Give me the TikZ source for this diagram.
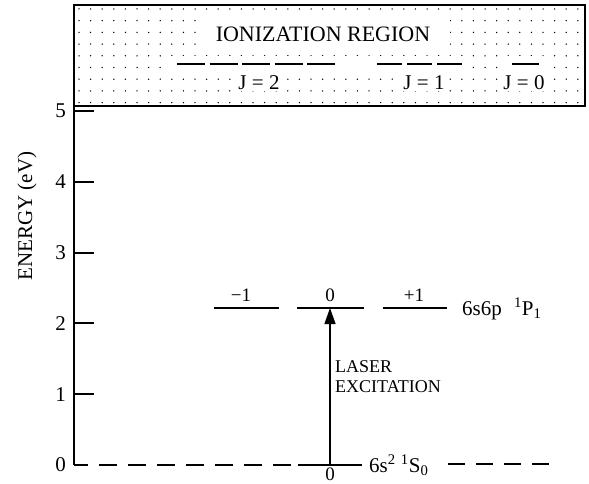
\documentclass[tikz,border=0pt]{standalone}
\usepackage{fontspec}
\setmainfont{Liberation Serif}
\usetikzlibrary{arrows.meta}
\tikzset{
  big/.style={font=\fontsize{21}{23}\selectfont, inner sep=1pt},
  mid/.style={font=\fontsize{18}{20}\selectfont, inner sep=1pt},
  small/.style={font=\fontsize{19}{21}\selectfont, inner sep=1pt},
  axisline/.style={line width=2pt},
  tickline/.style={line width=2pt},
  levelline/.style={line width=1.3pt},
  jdash/.style={line width=1.3pt, dash pattern=on 28pt off 4.5pt},
  gnddash/.style={line width=1.6pt, dash pattern=on 18pt off 11pt},
  dotfill/.style={fill=black}
}
\begin{document}
\begin{tikzpicture}[x=1pt,y=-1pt]
\useasboundingbox (0,0) rectangle (589,484);
% ionization region box with dots
\foreach \i in {0,...,43} {
  \foreach \j in {0,...,8} {
    \fill[dotfill] (79+11.6*\i, 9+11.7*\j) circle (0.75pt);
  }
}
\fill[white] (198,19) rectangle (450,48);
\fill[white] (170,56) rectangle (470,71);
\fill[white] (506,56) rectangle (546,71);
\coordinate (boxtl) at (74,5);
\coordinate (boxbr) at (585,106);
\draw[line width=1.5pt] (boxtl) rectangle (boxbr);
\node[big, font=\fontsize{22}{24}\selectfont] (ion) at (323,34) {IONIZATION REGION};
% J levels
\coordinate (j2a) at (177,64); \coordinate (j2b) at (339,64);
\coordinate (j1a) at (377,64); \coordinate (j1b) at (463,64);
\coordinate (j0a) at (512,64); \coordinate (j0b) at (539,64);
\draw[jdash] (j2a) -- (j2b);
\draw[line width=1.3pt, dash pattern=on 25pt off 5pt] (j1a) -- (j1b);
\draw[levelline] (j0a) -- (j0b);
\node[big, fill=white] (J2) at (259,83) {J = 2};
\node[big, fill=white] (J1) at (424,83) {J = 1};
\node[big, fill=white] (J0) at (524,83) {J = 0};
% axis
\coordinate (axtop) at (74,5);
\coordinate (axbot) at (74,465);
\draw[axisline] (axtop) -- (axbot);
\foreach \k/\y in {0/465,1/394.2,2/323.4,3/252.6,4/181.8,5/111} {
  \coordinate (t\k) at (74,\y);
  \ifnum\k>0 \draw[tickline] (t\k) -- ++(20,0); \fi
  \node[big, anchor=east] (l\k) at (67,\y) {\k};
}
\node[big, rotate=90] (elab) at (27,216) {ENERGY (eV)};
% 6s6p levels
\coordinate (m1a) at (214,308); \coordinate (m1b) at (279,308);
\coordinate (m0a) at (297,308); \coordinate (m0b) at (364,308);
\coordinate (p1a) at (383,308); \coordinate (p1b) at (447,308);
\draw[levelline] (m1a) -- (m1b);
\draw[levelline] (m0a) -- (m0b);
\draw[levelline] (p1a) -- (p1b);
\node[small] (lm1) at (241,295) {−1};
\node[small] (l0) at (330,295) {0};
\node[small] (lp1) at (414,295) {+1};
\node[big, anchor=base west] (pstate) at (461,315) {6s6p\,\, \textsuperscript{1}P\textsubscript{1}};
% ground level
\coordinate (g0) at (74,465);
\coordinate (g1) at (298,465);
\coordinate (g2) at (362,465);
\draw[gnddash, dash phase=4pt] (g0) -- (g1);
\draw[line width=1.6pt] (g1) -- (g2);
\node[big, anchor=base west, inner sep=0pt] (sstate) at (369,472) {6s\textsuperscript{2} \textsuperscript{1}S\textsubscript{0}};
\coordinate (g3) at (448,464);
\coordinate (g4) at (556,464);
\draw[line width=1.6pt, dash pattern=on 17pt off 11pt] (g3) -- (g4);
\node[small, anchor=base, inner sep=0pt] (gl0) at (330,480) {0};
% laser arrow
\coordinate (ab) at (330,465);
\coordinate (at) at (330,308);
\draw[line width=1.3pt, -{Triangle[length=16pt,width=11pt]}] (ab) -- (at);
\node[mid, anchor=west, align=left, font=\fontsize{18}{20}\selectfont] (laser) at (334,377) {LASER\\EXCITATION};
\end{tikzpicture}
\end{document}
